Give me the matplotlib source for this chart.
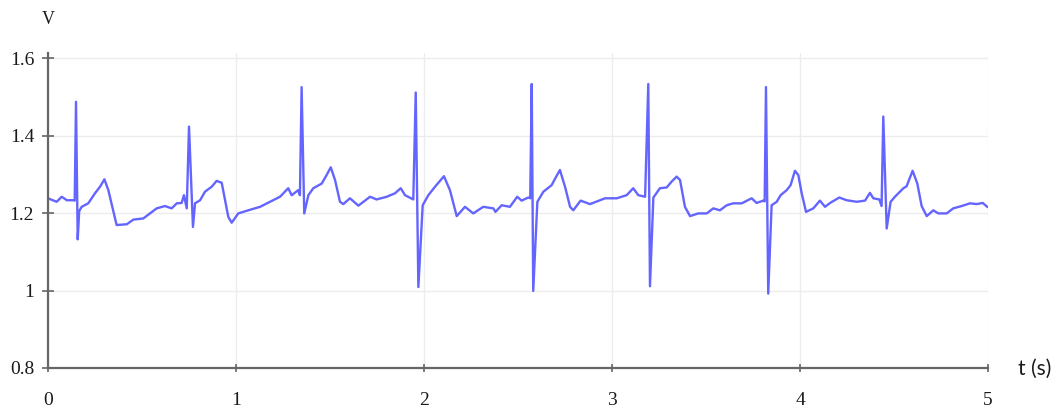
import matplotlib
matplotlib.use("Agg")
import matplotlib.pyplot as plt

# ECG trace (time in s, voltage in V)
t_s = [0.000, 0.046, 0.073, 0.100, 0.135, 0.142, 0.149, 0.158, 0.166, 0.179,
       0.214, 0.250, 0.277, 0.300, 0.321, 0.365, 0.419, 0.454, 0.507, 0.578,
       0.622, 0.658, 0.685, 0.711, 0.723, 0.738, 0.750, 0.771, 0.782, 0.809,
       0.835, 0.871, 0.897, 0.924, 0.959, 0.977, 1.012, 1.065, 1.128, 1.181,
       1.234, 1.278, 1.296, 1.331, 1.340, 1.349, 1.363, 1.385, 1.411, 1.456,
       1.482, 1.504, 1.527, 1.553, 1.571, 1.606, 1.651, 1.686, 1.713, 1.748,
       1.802, 1.846, 1.876, 1.899, 1.943, 1.956, 1.970, 1.993, 2.023, 2.059,
       2.106, 2.138, 2.174, 2.218, 2.262, 2.315, 2.369, 2.380, 2.413, 2.457,
       2.496, 2.519, 2.555, 2.565, 2.573, 2.581, 2.603, 2.635, 2.679, 2.702,
       2.723, 2.750, 2.777, 2.794, 2.833, 2.883, 2.963, 3.025, 3.078, 3.113,
       3.140, 3.176, 3.193, 3.202, 3.220, 3.255, 3.291, 3.317, 3.344, 3.362,
       3.388, 3.415, 3.459, 3.504, 3.539, 3.574, 3.610, 3.645, 3.690, 3.743,
       3.769, 3.805, 3.812, 3.819, 3.831, 3.849, 3.876, 3.897, 3.929, 3.950,
       3.973, 3.991, 4.009, 4.032, 4.071, 4.106, 4.133, 4.160, 4.209, 4.248,
       4.302, 4.346, 4.372, 4.390, 4.422, 4.434, 4.443, 4.461, 4.482, 4.505,
       4.550, 4.567, 4.599, 4.624, 4.647, 4.674, 4.709, 4.736, 4.780, 4.815,
       4.860, 4.904, 4.940, 4.972, 4.996]
voltage_v = [1.238, 1.229, 1.242, 1.233, 1.233, 1.232, 1.487, 1.132, 1.205, 1.216,
             1.225, 1.251, 1.268, 1.287, 1.259, 1.169, 1.171, 1.183, 1.186, 1.212,
             1.218, 1.212, 1.225, 1.226, 1.246, 1.212, 1.423, 1.164, 1.225, 1.233,
             1.255, 1.268, 1.283, 1.278, 1.190, 1.175, 1.199, 1.207, 1.216, 1.229,
             1.242, 1.264, 1.246, 1.259, 1.246, 1.525, 1.199, 1.246, 1.264, 1.276,
             1.298, 1.318, 1.285, 1.229, 1.223, 1.238, 1.219, 1.232, 1.242, 1.235,
             1.242, 1.251, 1.264, 1.246, 1.235, 1.511, 1.009, 1.220, 1.246, 1.268,
             1.295, 1.259, 1.192, 1.216, 1.199, 1.216, 1.212, 1.203, 1.220, 1.216,
             1.242, 1.232, 1.240, 1.238, 1.533, 0.999, 1.229, 1.255, 1.272, 1.293,
             1.311, 1.268, 1.216, 1.207, 1.232, 1.223, 1.238, 1.238, 1.246, 1.264,
             1.246, 1.242, 1.533, 1.011, 1.240, 1.264, 1.266, 1.281, 1.294, 1.285,
             1.216, 1.192, 1.199, 1.199, 1.212, 1.207, 1.220, 1.225, 1.225, 1.238,
             1.226, 1.232, 1.230, 1.525, 0.992, 1.220, 1.229, 1.246, 1.259, 1.272,
             1.309, 1.298, 1.251, 1.203, 1.212, 1.232, 1.216, 1.226, 1.240, 1.233,
             1.229, 1.232, 1.252, 1.238, 1.235, 1.218, 1.449, 1.160, 1.229, 1.242,
             1.264, 1.269, 1.309, 1.276, 1.218, 1.192, 1.207, 1.199, 1.199, 1.212,
             1.218, 1.225, 1.223, 1.226, 1.216]

x_ticks = [0, 1, 2, 3, 4, 5]
x_tick_labels = ["0", "1", "2", "3", "4", "5"]
y_ticks = [0.8, 1.0, 1.2, 1.4, 1.6]
y_tick_labels = ["0.8", "1", "1.2", "1.4", "1.6"]

plt.rcParams['font.family'] = ['Liberation Serif', 'DejaVu Serif']

fig = plt.figure(figsize=(10.57, 4.11), dpi=100)
# axes top slightly above the 1.6 tick so the left spine overshoots it
ax = fig.add_axes([48 / 1057, 1 - 368 / 411, 940 / 1057, 315 / 411])

ax.plot(t_s, voltage_v, color='#4f4fff', lw=1.7, alpha=0.88, solid_joinstyle='round')

ax.set_xlim(0, 5)
ax.set_ylim(0.8, 1.613)
ax.set_xticks(x_ticks)
ax.set_xticklabels(x_tick_labels)
ax.set_yticks(y_ticks)
ax.set_yticklabels(y_tick_labels)

ax.grid(True, color='#ececec', lw=1.0)
ax.set_axisbelow(True)

for side in ['top', 'right']:
    ax.spines[side].set_visible(False)
for side in ['left', 'bottom']:
    ax.spines[side].set_color('#666666')
    ax.spines[side].set_linewidth(1.6)

ax.tick_params(axis='x', direction='inout', length=6, width=1.2, color='#666666', pad=14,
               labelsize=14, labelcolor='#1a1a1a')
ax.tick_params(axis='y', direction='inout', length=8, width=1.2, color='#666666', pad=6,
               labelsize=14, labelcolor='#1a1a1a')

fig.text(48 / 1057, 1 - 20 / 411, 'V', ha='center', va='center', fontsize=13, color='#1a1a1a')
fig.text(1018 / 1057, 1 - 369 / 411, 't (s)', ha='left', va='center', fontsize=15,
         color='#1a1a1a', family=['Lato', 'DejaVu Sans'])

fig.savefig('out.png', dpi=100)
